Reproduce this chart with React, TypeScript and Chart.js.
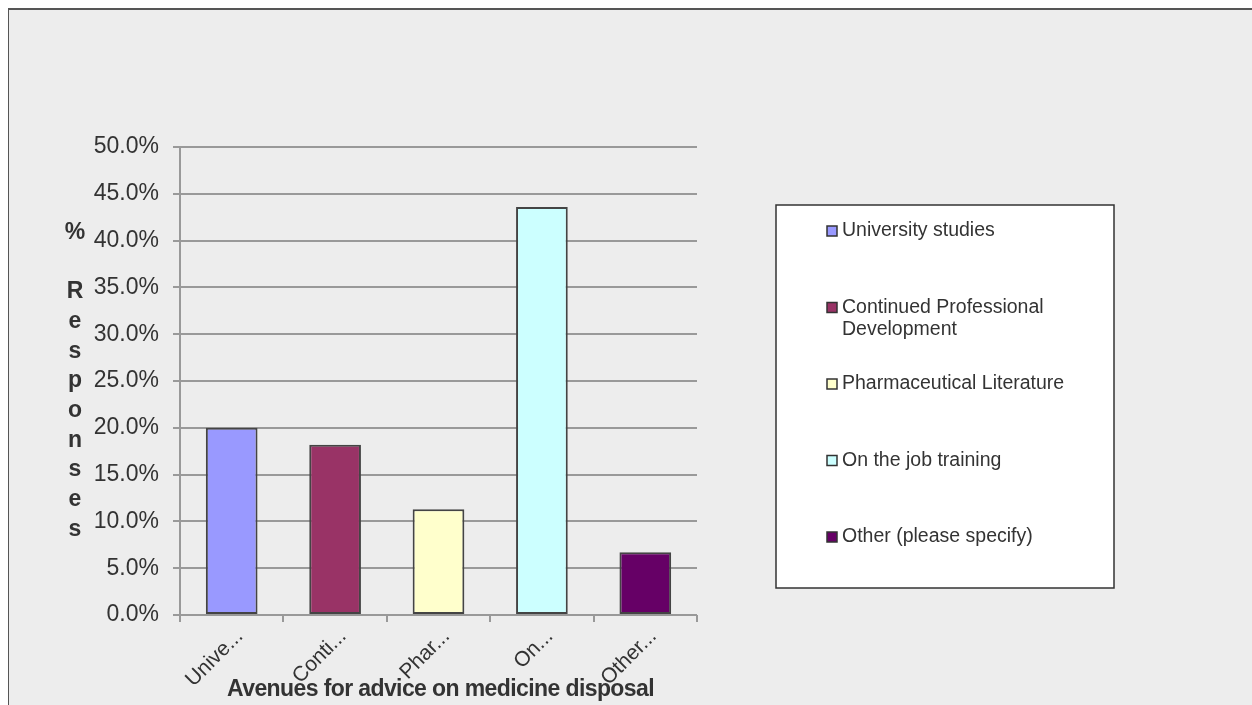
import React, { useEffect, useRef } from "react";
import { Chart, registerables } from "chart.js";

Chart.register(...registerables);

const categories = [
  "University studies",
  "Continued Professional Development",
  "Pharmaceutical Literature",
  "On the job training",
  "Other (please specify)",
];
const tickLabels = ["Unive...", "Conti...", "Phar...", "On...", "Other..."];
const values = [20.0, 18.2, 11.3, 43.6, 6.7];
const barColors = ["#9999FF", "#993366", "#FFFFCC", "#CCFFFF", "#660066"];
const yAxisTitle = "% Responses";
const xAxisTitle = "Avenues for advice on medicine disposal";

const FONT = '"Liberation Sans", Arial, sans-serif';
const TEXT = "#333333";
const W = 1264;
const H = 697;

const decor = {
  id: "decor",
  beforeDraw(chart: any) {
    const { ctx, width, height } = chart;
    ctx.save();
    ctx.fillStyle = "#EDEDED";
    ctx.fillRect(0, 0, width, height);
    ctx.strokeStyle = "#555555";
    ctx.lineWidth = 2;
    ctx.beginPath();
    ctx.moveTo(0, height);
    ctx.lineTo(0, 1);
    ctx.lineTo(width, 1);
    ctx.stroke();
    ctx.restore();
  },
  afterDraw(chart: any) {
    const { ctx, chartArea: a } = chart;
    ctx.save();
    // vertical y-axis title (stacked letters)
    ctx.font = `bold 23px ${FONT}`;
    ctx.fillStyle = TEXT;
    ctx.textAlign = "center";
    ctx.textBaseline = "middle";
    const chars = Array.from(yAxisTitle);
    const lh = 29.7;
    const midY = (a.top + a.bottom) / 2;
    const y0 = midY - ((chars.length - 1) * lh) / 2;
    chars.forEach((c, i) => {
      if (c !== " ") ctx.fillText(c, a.left - 105, y0 + i * lh);
    });
    // x-axis title
    ctx.font = `bold 23px ${FONT}`;
    (ctx as any).letterSpacing = "-0.6px";
    ctx.fillText(xAxisTitle, (a.left + a.right) / 2 + 2, a.bottom + 75);
    (ctx as any).letterSpacing = "0px";

    // legend
    const bx = a.right + 79;
    const by = a.top + 58;
    const bw = 338;
    const bh = 383;
    ctx.fillStyle = "#FFFFFF";
    ctx.fillRect(bx, by, bw, bh);
    ctx.strokeStyle = "#333333";
    ctx.lineWidth = 1.5;
    ctx.strokeRect(bx, by, bw, bh);
    ctx.font = `19.5px ${FONT}`;
    ctx.textAlign = "left";
    ctx.textBaseline = "middle";
    const maxW = 240;
    categories.forEach((label, i) => {
      const cy = by + 26 + i * 76.5;
      ctx.fillStyle = barColors[i];
      ctx.fillRect(bx + 51, cy - 5, 10, 10);
      ctx.strokeStyle = "#333333";
      ctx.lineWidth = 1.5;
      ctx.strokeRect(bx + 51, cy - 5, 10, 10);
      const words = label.split(" ");
      const lines: string[] = [];
      let cur = "";
      words.forEach((w) => {
        const t = cur ? cur + " " + w : w;
        if (ctx.measureText(t).width > maxW && cur) {
          lines.push(cur);
          cur = w;
        } else cur = t;
      });
      if (cur) lines.push(cur);
      ctx.fillStyle = TEXT;
      lines.forEach((ln, j) => ctx.fillText(ln, bx + 66, cy + j * 22));
    });
    ctx.restore();
  },
};

export default function App() {
  const ref = useRef<HTMLCanvasElement>(null);
  useEffect(() => {
    document.body.style.overflow = "hidden";
    const chart = new Chart(ref.current!, {
      type: "bar",
      data: {
        labels: tickLabels,
        datasets: [
          {
            data: values,
            backgroundColor: barColors,
            borderColor: "#444444",
            borderWidth: 2,
            borderSkipped: false,
            barPercentage: 0.5,
            categoryPercentage: 1,
          },
        ],
      },
      options: {
        responsive: false,
        animation: false,
        devicePixelRatio: 1,
        layout: { padding: { left: 0, top: 139, right: W - 689, bottom: 0 } },
        plugins: { legend: { display: false }, tooltip: { enabled: false } },
        scales: {
          x: {
            grid: {
              display: true,
              drawOnChartArea: false,
              drawTicks: true,
              tickLength: 7,
              color: "#999999",
              lineWidth: 2,
              offset: true,
            },
            border: { display: false },
            ticks: {
              font: { family: FONT, size: 21 },
              color: TEXT,
              minRotation: 45,
              maxRotation: 45,
              autoSkip: false,
              padding: 2,
              labelOffset: 8,
            },
            afterFit(scale: any) {
              scale.height = 90;
            },
          },
          y: {
            min: 0,
            max: 50,
            grid: { color: "#999999", lineWidth: 2, tickLength: 7 },
            border: { display: true, color: "#999999", width: 2 },
            ticks: {
              stepSize: 5,
              font: { family: FONT, size: 23 },
              color: TEXT,
              padding: 14,
              callback: (v: any) => Number(v).toFixed(1) + "%",
            },
            afterFit(scale: any) {
              scale.width = 172;
            },
          },
        },
      },
      plugins: [decor],
    });
    return () => chart.destroy();
  }, []);
  return (
    <div
      style={{
        position: "fixed",
        left: 8,
        top: 8,
        right: 0,
        bottom: 0,
        background: "#EDEDED",
        overflow: "hidden",
      }}
    >
      <canvas
        ref={ref}
        width={W}
        height={H}
        style={{ display: "block", width: W, height: H }}
      />
    </div>
  );
}
